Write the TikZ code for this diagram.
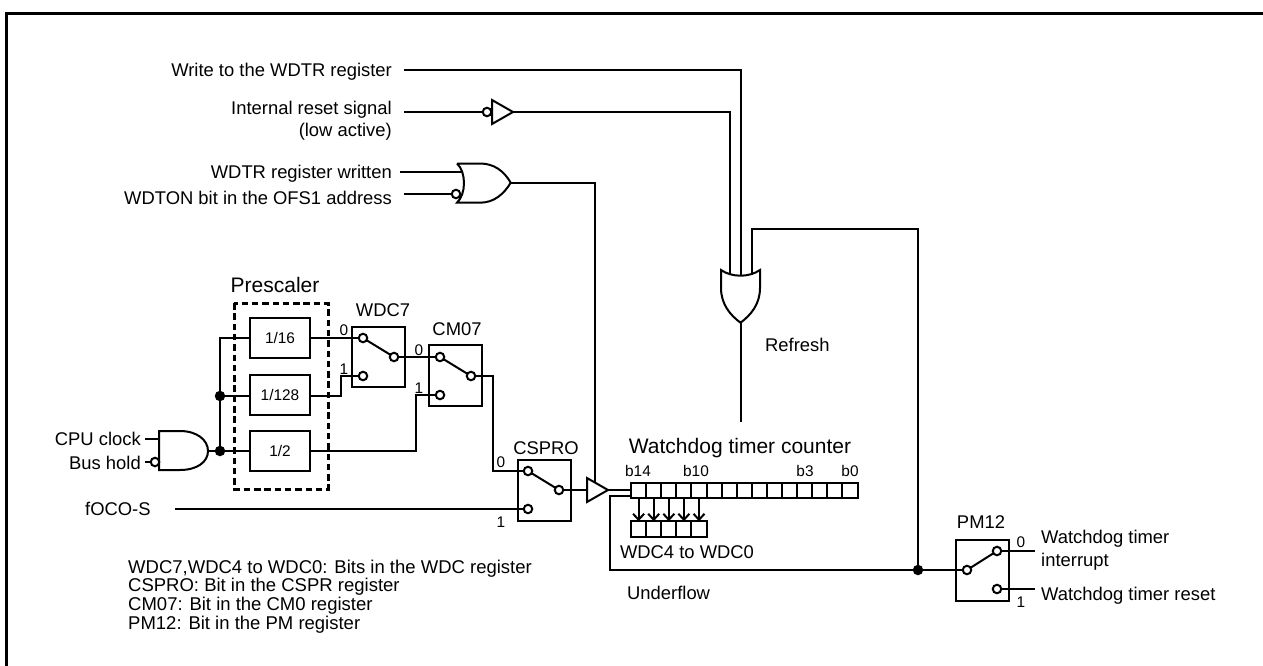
\documentclass[tikz,border=0pt]{standalone}
\usepackage{fontspec}
\setmainfont{Liberation Sans}
\usetikzlibrary{arrows.meta}
\tikzset{
    wire/.style={line width=2pt},
    lbl/.style={inner sep=0pt, text height=13.2pt, text depth=0pt, font=\fontsize{18.4}{22}\selectfont},
    biglbl/.style={inner sep=0pt, text height=15pt, text depth=0pt, font=\fontsize{21}{25}\selectfont},
    tinylbl/.style={inner sep=0pt, text height=11pt, text depth=0pt, font=\fontsize{15.4}{18}\selectfont},
    blockbox/.style={draw, line width=2pt, outer sep=0pt, inner sep=0pt, font=\fontsize{15.4}{18}\selectfont},
    divbox/.style={blockbox, minimum width=60pt, minimum height=40pt},
    swbox/.style={blockbox, minimum width=53pt, minimum height=60.5pt},
    cellbox/.style={blockbox, minimum width=15.1pt, minimum height=15.5pt},
    pinc/.style={circle, draw, line width=2pt, fill=white, minimum size=8.5pt, inner sep=0pt, outer sep=0pt},
    dotc/.style={circle, fill=black, minimum size=10.5pt, inner sep=0pt, outer sep=0pt}
}
\begin{document}
\begin{tikzpicture}[x=1pt, y=-1pt]
    \useasboundingbox (0,0) rectangle (1263,666);

    % outer frame, left and top only
    \draw[line width=3pt] (6.5,666) -- (6.5,13.5) -- (1263,13.5);

    % input labels
    \node[lbl, anchor=east] (writeLbl) at (392,69.5) {Write to the WDTR register};
    \node[lbl, anchor=east] (resetLbl) at (392,108) {Internal reset signal};
    \node[lbl, anchor=east] (lowLbl) at (392,130) {(low active)};
    \node[lbl, anchor=east] (writtenLbl) at (392,171.5) {WDTR register written};
    \node[lbl, anchor=east] (wdtonLbl) at (392,198) {WDTON bit in the OFS1 address};
    \node[lbl, anchor=east] (cpuLbl) at (141,438.5) {CPU clock};
    \node[lbl, anchor=east] (busLbl) at (141,463) {Bus hold};
    \node[lbl, anchor=west] (focoLbl) at (85,509) {fOCO-S};
    \node[lbl, anchor=west] (refreshLbl) at (765,345) {Refresh};
    \node[lbl, anchor=west] (underLbl) at (627,593) {Underflow};

    % inverter on the reset signal
    \coordinate (invIn) at (492,112);
    \coordinate (invOut) at (513,112);
    \node[pinc] (invPin) at (487,112) {};
    \draw[wire, line join=miter] (492,100) -- (513,112) -- (492,124) -- cycle;

    % OR gate of the register written signals
    \draw[wire] (457,163.5) -- (480,163.5) .. controls (494,163.5) and (504,171) .. (510.7,182.7)
        .. controls (504,194) and (494,202.7) .. (480,202.7) -- (457,202.7)
        .. controls (466.3,194) and (466.3,172) .. (457,163.5);
    \coordinate (orOut) at (510.7,182.7);
    \node[pinc] (orPin) at (456,194) {};

    % vertical OR gate
    \draw[wire] (721,270) .. controls (732,277.6) and (749,277.6) .. (760,270)
        -- (760,288) .. controls (760,304) and (751,315) .. (740.5,322.7)
        .. controls (730,315) and (721,304) .. (721,288) -- cycle;
    \coordinate (refIn) at (729.7,275);
    \coordinate (refMid) at (740.5,275.7);
    \coordinate (refBack) at (752,274.5);
    \coordinate (refOut) at (740.5,322.7);
    \coordinate (refEnd) at (740.5,422);

    % prescaler
    \node[biglbl] (prescLbl) at (275,284.5) {Prescaler};
    \draw[line width=3pt, dash pattern=on 6.5pt off 3.8pt] (234,303) rectangle (328,489);
    \node[divbox] (divA) at (280,338) {1/16};
    \node[divbox] (divB) at (280,395) {1/128};
    \node[divbox] (divC) at (280,451) {1/2};

    % AND gate of the clock
    \draw[wire] (159,431) -- (180,431) .. controls (197,431) and (208,440) .. (208,451)
        .. controls (208,462) and (197,470) .. (180,470) -- (159,470) -- cycle;
    \coordinate (andOut) at (208,451);
    \node[pinc] (busPin) at (155,462) {};
    \node[dotc] (jointC) at (220,451) {};
    \node[dotc] (jointB) at (220,396) {};
    \coordinate (jointA) at (220,338);

    % switch WDC7
    \node[swbox] (swWdc) at (378.5,357) {};
    \node[lbl] (swWdcLbl) at (383,310) {WDC7};
    \node[pinc] (wdcZero) at (363,338) {};
    \node[pinc] (wdcOne) at (363,376) {};
    \node[pinc] (wdcOut) at (394,357) {};
    \node[tinylbl] (wdcZeroLbl) at (344,330) {0};
    \node[tinylbl] (wdcOneLbl) at (344,369) {1};
    \coordinate (wdcBend) at (341,396);

    % switch CM07
    \node[swbox] (swCm) at (455.5,375.5) {};
    \node[lbl] (swCmLbl) at (457,328.5) {CM07};
    \node[pinc] (cmZero) at (440,357) {};
    \node[pinc] (cmOne) at (440,395) {};
    \node[pinc] (cmOut) at (471,376) {};
    \node[tinylbl] (cmZeroLbl) at (419,350) {0};
    \node[tinylbl] (cmOneLbl) at (419,388) {1};
    \coordinate (cmBend) at (416,451);
    \coordinate (cmDown) at (493,376);

    % switch CSPRO
    \node[swbox] (swCs) at (544,490.5) {};
    \node[lbl] (swCsLbl) at (546,447.5) {CSPRO};
    \node[pinc] (csZero) at (528,471) {};
    \node[pinc] (csOne) at (528,509) {};
    \node[pinc] (csOut) at (559,490) {};
    \node[tinylbl] (csZeroLbl) at (501,462) {0};
    \node[tinylbl] (csOneLbl) at (501,522) {1};

    % buffer in front of the counter
    \draw[wire, line join=miter] (587,478) -- (608,490) -- (587,502) -- cycle;
    \coordinate (bufIn) at (587,490);
    \coordinate (bufOut) at (608,490);
    \coordinate (bufTop) at (595,482.6);

    % counter and its lower bits
    \node[biglbl] (cntLbl) at (740,446) {Watchdog timer counter};
    \foreach \i in {0,...,14}
        \node[cellbox] (cnt\i) at ({638.6+15.1*\i},490.3) {};
    \foreach \i in {0,...,4} {
        \node[cellbox] (low\i) at ({638.6+15.1*\i},529) {};
        \draw[wire, -{Straight Barb[length=6pt,width=11pt]}] (cnt\i.south) -- (low\i.north);
    }
    \node[tinylbl] (bitA) at (638,471) {b14};
    \node[tinylbl] (bitB) at (696,471) {b10};
    \node[tinylbl] (bitC) at (805,471) {b3};
    \node[tinylbl] (bitD) at (850,471) {b0};
    \node[lbl] (lowLbl2) at (687,551.5) {WDC4 to WDC0};
    \coordinate (cntIn) at (631,490);
    \coordinate (cntOut) at (631,495.7);
    \coordinate (flowBend) at (610,495.7);

    % switch PM12
    \node[swbox] (swPm) at (982.2,570.3) {};
    \node[lbl] (swPmLbl) at (981,521.5) {PM12};
    \node[pinc] (pmIn) at (967,570) {};
    \node[pinc] (pmZero) at (997,551) {};
    \node[pinc] (pmOne) at (997,589) {};
    \node[tinylbl] (pmZeroLbl) at (1021,542) {0};
    \node[tinylbl] (pmOneLbl) at (1021,602) {1};
    \node[dotc] (jointPm) at (918,570) {};
    \coordinate (fbTop) at (918,229);
    \coordinate (pmZeroOut) at (1035,551);
    \coordinate (pmOneOut) at (1035,589);
    \node[lbl, anchor=west] (wdIntA) at (1041,537) {Watchdog timer};
    \node[lbl, anchor=west] (wdIntB) at (1041,559.5) {interrupt};
    \node[lbl, anchor=west] (wdRes) at (1041,593.5) {Watchdog timer reset};

    % wires at the top
    \coordinate (writeIn) at (404,70);
    \coordinate (resetIn) at (404,112);
    \coordinate (writtenIn) at (400,172);
    \coordinate (orInA) at (462,172);
    \coordinate (wdtonIn) at (404,194);
    \draw[wire] (writeIn) -| (refMid);
    \draw[wire] (resetIn) -- (invPin);
    \draw[wire] (invOut) -| (refIn);
    \draw[wire] (writtenIn) -- (orInA);
    \draw[wire] (wdtonIn) -- (orPin);
    \draw[wire] (orOut) -| (bufTop);
    \draw[wire] (refOut) -- (refEnd);

    % wires of the clock path
    \coordinate (cpuIn) at (145,439);
    \coordinate (andInA) at (159,439);
    \coordinate (busIn) at (145,462);
    \draw[wire] (cpuIn) -- (andInA);
    \draw[wire] (busIn) -- (busPin);
    \draw[wire] (andOut) -- (divC.west);
    \draw[wire] (jointC) -- (jointA) -- (divA.west);
    \draw[wire] (jointB) -- (divB.west |- jointB);

    % wires through the switches
    \draw[wire] (divA.east) -- (wdcZero);
    \draw[wire] (divB.east |- wdcBend) -- (wdcBend) |- (wdcOne);
    \draw[wire] (wdcZero) -- (wdcOut);
    \draw[wire] (wdcOut) -- (cmZero);
    \draw[wire] (divC.east) -- (cmBend) |- (cmOne);
    \draw[wire] (cmZero) -- (cmOut);
    \draw[wire] (cmOut) -- (cmDown) |- (csZero);
    \draw[wire] (csZero) -- (csOut);
    \coordinate (focoIn) at (175,509);
    \draw[wire] (focoIn) -- (csOne);
    \draw[wire] (csOut) -- (bufIn);
    \draw[wire] (bufOut) -- (cntIn);

    % underflow and feedback
    \draw[wire] (cntOut) -- (flowBend) |- (pmIn);
    \draw[wire] (jointPm) -- (fbTop) -| (refBack);
    \draw[wire] (pmIn) -- (pmZero);
    \draw[wire] (pmZero) -- (pmZeroOut);
    \draw[wire] (pmOne) -- (pmOneOut);

    % notes
    \node[inner sep=0pt, anchor=north west, align=left, font=\fontsize{18.5}{18.7}\selectfont] (notes) at (128,559.5) {WDC7,WDC4 to WDC0: Bits in the WDC register\\CSPRO: Bit in the CSPR register\\CM07: Bit in the CM0 register\\PM12: Bit in the PM register};
\end{tikzpicture}
\end{document}
